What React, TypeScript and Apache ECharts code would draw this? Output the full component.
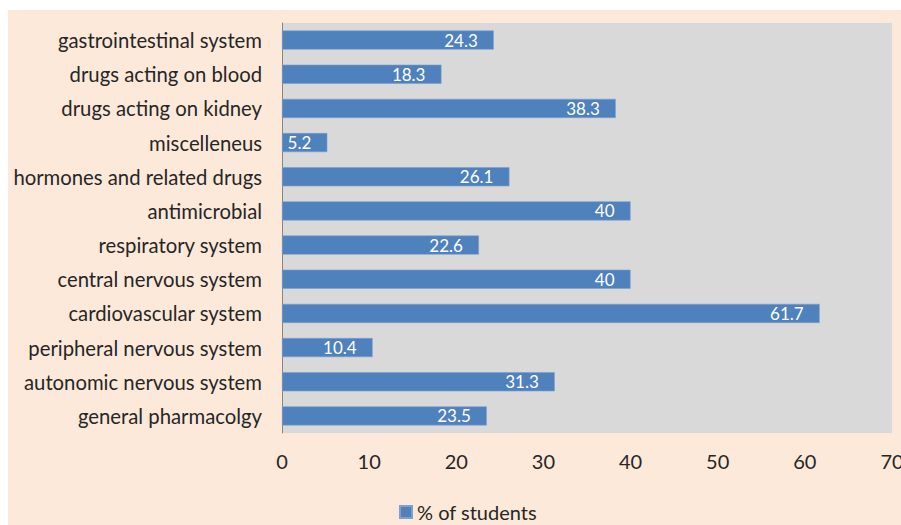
import React, { useEffect, useRef } from "react";
import * as echarts from "echarts";

const categories = [
  "gastrointestinal system",
  "drugs acting on blood",
  "drugs acting on kidney",
  "miscelleneus",
  "hormones and related drugs",
  "antimicrobial",
  "respiratory system",
  "central nervous system",
  "cardiovascular system",
  "peripheral nervous system",
  "autonomic nervous system",
  "general pharmacolgy",
];
const studentsPct = [24.3, 18.3, 38.3, 5.2, 26.1, 40, 22.6, 40, 61.7, 10.4, 31.3, 23.5];
const seriesName = "% of students";

const PEACH = "#FDE9D9";

export default function App() {
  const ref = useRef<HTMLDivElement>(null);
  useEffect(() => {
    if (!ref.current) return;
    document.body.style.margin = "0";
    document.body.style.overflow = "hidden";
    document.documentElement.style.overflow = "hidden";
    document.documentElement.style.background =
      "linear-gradient(to bottom, #ffffff 0px, #ffffff 10px, transparent 10px), " +
      "linear-gradient(to right, #ffffff 0px, #ffffff 8px, " + PEACH + " 8px)";
    document.documentElement.style.minHeight = "100%";
    const chart = echarts.init(ref.current, undefined, { renderer: "svg" });
    const font = "Lato, 'Open Sans', sans-serif";
    chart.setOption({
      animation: false,
      backgroundColor: PEACH,
      textStyle: { fontFamily: font },
      grid: {
        left: 274,
        top: 13,
        width: 610,
        height: 410,
        show: true,
        backgroundColor: "#D9D9D9",
        borderWidth: 0,
      },
      legend: {
        data: [seriesName],
        left: 391,
        top: 492,
        padding: 0,
        icon: "rect",
        itemWidth: 12,
        itemHeight: 12,
        itemGap: 6,
        textStyle: { fontFamily: font, fontSize: 20, color: "#262626" },
      },
      xAxis: {
        type: "value",
        min: 0,
        max: 70,
        interval: 10,
        axisLine: { show: false },
        axisTick: { show: false },
        splitLine: { show: false },
        axisLabel: { fontFamily: font, fontSize: 20, color: "#262626", margin: 18 },
      },
      yAxis: {
        type: "category",
        data: categories,
        inverse: true,
        axisLine: { show: true, lineStyle: { color: "#868686", width: 1 } },
        axisTick: { show: false },
        axisLabel: { fontFamily: font, fontSize: 20.3, color: "#262626", margin: 20 },
      },
      series: [
        {
          name: seriesName,
          type: "bar",
          data: studentsPct,
          barCategoryGap: "44%",
          itemStyle: { color: "#4F81BD", borderColor: "#7DA0CC", borderWidth: 0.6 },
          label: {
            show: true,
            position: "insideRight",
            distance: 16,
            color: "#FFFFFF",
            fontFamily: font,
            fontSize: 17,
          },
        },
      ],
    });
    return () => chart.dispose();
  }, []);
  return (
    <div
      ref={ref}
      style={{ position: "absolute", left: 8, top: 10, width: 1000, height: 600 }}
    />
  );
}
